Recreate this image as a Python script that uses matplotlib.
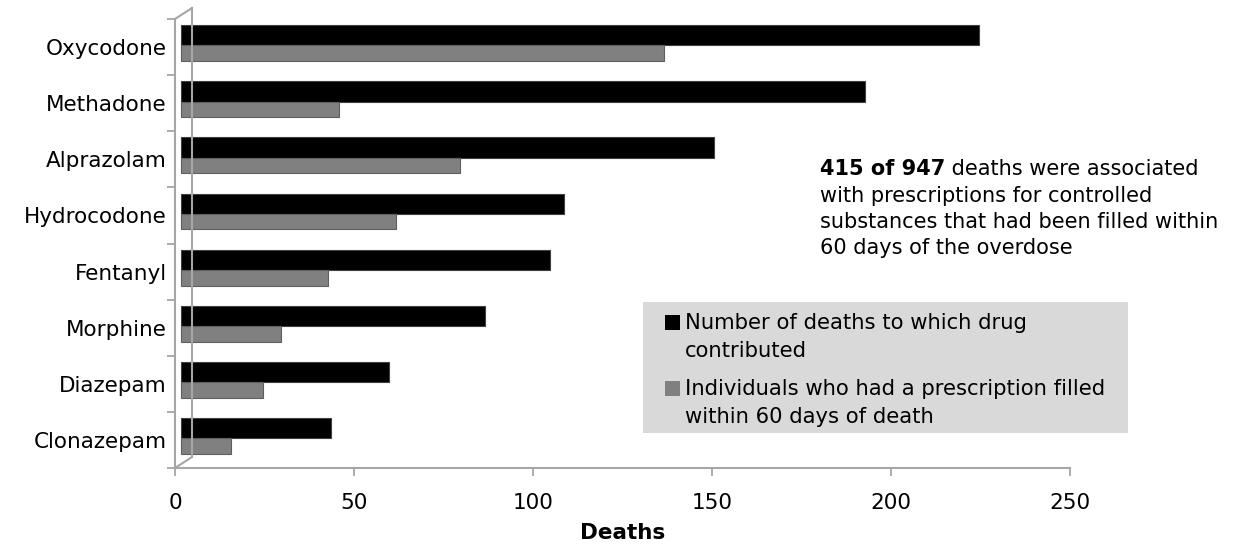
import matplotlib
matplotlib.use("Agg")
import matplotlib.pyplot as plt
from matplotlib.transforms import ScaledTranslation
from matplotlib.lines import Line2D
from matplotlib.patches import Rectangle
import numpy as np

plt.rcParams['font.family'] = ['DejaVu Sans']

drugs = ["Oxycodone", "Methadone", "Alprazolam", "Hydrocodone",
         "Fentanyl", "Morphine", "Diazepam", "Clonazepam"]
deaths = [223, 191, 149, 107, 103, 85, 58, 42]
prescribed = [135, 44, 78, 60, 41, 28, 23, 14]
xticks = [0, 50, 100, 150, 200, 250]
series_labels = ["Number of deaths to which drug\ncontributed",
                 "Individuals who had a prescription filled\nwithin 60 days of death"]
series_colors = ["#000000", "#808080"]
note_bold = "415 of 947"
note_rest_first = " deaths were associated"
note_rest = "with prescriptions for controlled\nsubstances that had been filled within\n60 days of the overdose"

W, H = 1233, 548
fig = plt.figure(figsize=(W / 100, H / 100), dpi=100)
ax_l, ax_r, ax_t, ax_b = 175, 1070, 19, 468
ax = fig.add_axes([ax_l / W, 1 - ax_b / H, (ax_r - ax_l) / W, (ax_b - ax_t) / H])

grey_line = "#a6a6a6"
shift = ax.transData + ScaledTranslation(6 / 100, 0, fig.dpi_scale_trans)
y = np.arange(len(drugs))
ax.barh(y - 0.21, deaths, height=0.36, color=series_colors[0], edgecolor="#404040",
        linewidth=0.8, transform=shift, zorder=3, label=series_labels[0])
ax.barh(y + 0.11, prescribed, height=0.28, color=series_colors[1], edgecolor="#5f5f5f",
        linewidth=0.8, transform=shift, zorder=3, label=series_labels[1])

ax.set_xlim(0, 250)
ax.set_ylim(len(drugs) - 0.5, -0.5)
ax.set_xticks(xticks)
ax.set_xticklabels([str(t) for t in xticks])
ax.set_yticks(y)
ax.set_yticklabels(drugs)
ax.set_yticks(np.arange(len(drugs) + 1) - 0.5, minor=True)
ax.tick_params(axis='y', which='major', length=0, pad=6, labelsize=15.5)
ax.tick_params(axis='y', which='minor', length=6, color=grey_line, width=1.3)
ax.tick_params(axis='x', which='major', length=6, color=grey_line, width=1.3,
               pad=12, labelsize=15.5)
for s in ["top", "right"]:
    ax.spines[s].set_visible(False)
for s in ["left", "bottom"]:
    ax.spines[s].set_color(grey_line)
    ax.spines[s].set_linewidth(1.5)
ax.set_facecolor("none")


def fx(px):
    return px / W


def fy(py):
    return 1 - py / H


# back wall of the 3-D frame
bx, top_b, bot_b = 192, 8, 457
for (x0, y0, x1, y1) in [(bx, top_b, bx, bot_b), (ax_l, ax_t, bx, top_b),
                          (ax_l, ax_b, bx, bot_b)]:
    fig.add_artist(Line2D([fx(x0), fx(x1)], [fy(y0), fy(y1)], color=grey_line,
                          lw=1.5, transform=fig.transFigure, zorder=1))

ax.set_xlabel("Deaths", fontsize=15.5, fontweight="bold", labelpad=7)

# legend (drawn as a grey box with square keys aligned to the first text line)
fig.add_artist(Rectangle((fx(643), fy(433)), fx(1128) - fx(643), fy(302) - fy(433),
                         transform=fig.transFigure, facecolor="#d9d9d9",
                         edgecolor="none", zorder=1))
entry_centres = [322, 388]
for lab, col, yc in zip(series_labels, series_colors, entry_centres):
    fig.add_artist(Rectangle((fx(665), fy(yc + 8)), fx(680) - fx(665), fy(yc - 7) - fy(yc + 8),
                             transform=fig.transFigure, facecolor=col,
                             edgecolor="none", zorder=2))
    fig.text(fx(685), fy(yc - 9), lab, fontsize=15.2, va="top", ha="left",
             linespacing=1.52, zorder=3)

# annotation
t1 = fig.text(fx(820), fy(169), note_bold, fontsize=15, fontweight="bold",
              va="center", ha="left")
ax.annotate(note_rest_first, xy=(1, 0.5), xycoords=t1, va="center",
            ha="left", fontsize=15)
fig.text(fx(820), fy(186), note_rest, fontsize=15, va="top", ha="left",
         linespacing=1.38)

fig.savefig("out.png", dpi=100)
